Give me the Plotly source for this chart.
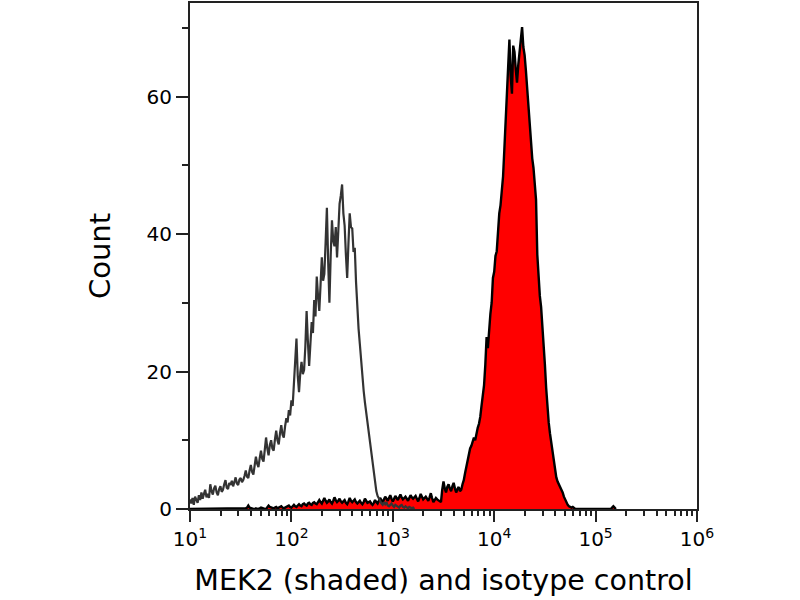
import plotly.graph_objects as go

# Histogram channels: log10 of fluorescence, start and step of the channel grid
log_start = 1.0
log_step = 0.0125

# Isotype control counts (outline only), channels from 10^1
iso_counts = [
    1.4, 0.8, 1.6, 0.6, 1.8, 1.2, 0.9, 2.0, 1.3, 2.4,
    1.5, 2.2, 2.8, 1.7, 2.2, 1.6, 3.6, 2.6, 2.1, 3.0,
    3.4, 2.4, 2.0, 2.9, 3.3, 2.5, 2.8, 3.6, 4.2, 3.1,
    2.9, 3.8, 3.5, 4.1, 3.3, 3.9, 4.6, 3.7, 3.5, 4.3,
    4.5, 3.9, 4.2, 4.8, 5.6, 4.7, 4.5, 5.6, 6.4, 5.4,
    5.0, 6.3, 7.6, 6.6, 6.1, 7.4, 8.5, 7.3, 6.9, 8.6,
    10.4, 8.8, 7.8, 9.3, 10.0, 8.8, 8.5, 10.1, 11.4, 10.0,
    9.4, 11.0, 12.2, 10.8, 10.4, 12.0, 13.2, 12.6, 14.4, 13.6,
    15.8, 15.0, 17.8, 20.4, 24.8, 19.4, 17.0, 19.8, 21.4, 19.6,
    20.2, 23.6, 28.8, 24.4, 20.8, 24.0, 27.2, 25.6, 30.4, 28.0,
    33.8, 31.0, 28.8, 32.6, 36.6, 33.2, 34.2, 38.8, 43.8, 36.0,
    30.0, 36.8, 42.0, 39.0, 38.2, 41.0, 36.6, 40.4, 44.4, 45.6,
    47.2, 43.0, 41.2, 37.0, 33.6, 38.6, 43.0, 41.0, 40.8, 37.4,
    38.0, 33.0, 29.0, 26.2, 24.0, 21.4, 19.5, 17.2, 15.5, 14.0,
    12.9, 11.2, 9.9, 8.0, 6.6, 5.0, 3.8, 2.6, 1.9, 1.4,
    1.2, 0.8, 0.6, 1.0, 0.7, 1.0, 0.5, 0.4, 0.7, 0.8,
    0.5, 0.3, 0.6, 0.5, 0.3, 0.2, 0.5, 0.6, 0.3, 0.2,
    0.4, 0.3, 0.1, 0.3, 0.2, 0.1, 0.2, 0.0,
]

# MEK2 counts (shaded), channels from 10^1
mek2_counts = [
    0, 0, 0, 0, 0, 0, 0, 0, 0, 0,
    0, 0, 0, 0, 0, 0, 0, 0, 0, 0,
    0, 0, 0, 0, 0, 0, 0, 0, 0, 0,
    0, 0, 0, 0, 0, 0,
    0.1, 0, 0, 0, 0, 0, 0, 0, 0.1, 0.2,
    0.5, 0.2, 0.1, 0, 0, 0, 0.1, 0, 0, 0.1,
    0.2, 0.1, 0.1, 0, 0, 0.2, 0.5, 0.3, 0.2, 0.1,
    0.1, 0.2, 0.3, 0.1, 0.2, 0.3, 0.4, 0.2, 0.1, 0.2,
    0.3, 0.4, 0.5, 0.3, 0.2, 0.4, 0.6, 0.4, 0.3, 0.5,
    0.7, 0.5, 0.4, 0.7, 0.8, 0.6, 0.5, 0.8, 0.9, 0.7,
    0.6, 0.9, 1.0, 0.8, 0.7, 1.0, 1.3, 1.0, 0.8, 1.2,
    1.6, 1.2, 0.9, 1.1, 1.4, 1.0, 0.8, 1.2, 1.7, 1.3,
    1.0, 1.2, 1.5, 1.1, 0.9, 1.1, 1.3, 0.9, 0.7, 1.1,
    1.6, 1.2, 1.0, 1.2, 1.4, 1.0, 0.8, 1.0, 1.2, 0.9,
    0.7, 1.0, 1.5, 1.2, 0.9, 1.0, 1.1, 0.8, 0.6, 0.9,
    1.3, 1.0, 0.8, 1.2, 1.6, 1.3, 1.0, 1.4, 1.8, 1.5,
    1.2, 1.6, 2.0, 1.5, 1.1, 1.5, 1.9, 1.6, 1.3, 1.7,
    2.1, 1.7, 1.4, 1.6, 1.8, 1.5, 1.2, 1.6, 2.0, 1.7,
    1.5, 1.7, 1.9, 1.5, 1.1, 1.6, 2.2, 1.8, 1.4, 1.6,
    1.8, 1.5, 1.2, 1.7, 2.3, 1.6, 1.0, 1.3, 1.6, 1.4,
    1.3, 1.1, 1.0, 2.8,
    4.0, 3.0, 2.4, 3.2, 3.6, 3.0, 2.6, 3.3, 3.8, 3.0,
    2.4, 2.9, 3.2, 2.6, 2.8, 3.6, 4.2, 5.2, 6.1, 7.2,
    7.8, 8.8, 9.2, 9.8, 10.4, 10.0, 11.2, 11.8, 12.4, 13.4,
    15.0, 16.8, 18.0, 21.0, 25.0, 23.4, 26.5, 28.4, 30.0, 33.6,
    34.5, 36.8, 37.5, 40.6, 43.0, 44.2, 46.0, 48.4, 52.3, 56.4,
    61.0, 65.0, 68.3, 63.0, 60.4, 67.4, 66.5, 64.0, 62.0, 64.6,
    66.8, 68.0, 70.1, 67.2, 66.0, 63.8, 61.0, 58.8, 56.0, 53.2,
    51.0, 49.6, 47.5, 45.0, 37.0, 33.6, 31.0, 29.4, 27.0, 24.0,
    21.0, 17.6, 14.5, 12.6, 11.0, 9.8, 8.5, 6.8, 5.5, 4.6,
    4.0, 3.6, 3.4, 2.8, 2.4, 1.8, 1.3, 0.9, 0.6, 0.4,
    0.3, 0.2, 0.3, 0.1, 0,
    0, 0, 0, 0, 0, 0, 0, 0, 0, 0,
    0, 0, 0, 0, 0, 0, 0, 0, 0, 0,
    0, 0, 0, 0, 0, 0, 0, 0,
    0.2, 0.4, 0.2, 0,
]

x_tick_vals = [1e1, 1e2, 1e3, 1e4, 1e5, 1e6]
x_tick_text = ["10<sup>1</sup>", "10<sup>2</sup>", "10<sup>3</sup>",
               "10<sup>4</sup>", "10<sup>5</sup>", "10<sup>6</sup>"]
y_tick_vals = [0, 20, 40, 60]
x_title = "MEK2 (shaded) and isotype control"
y_title = "Count"

def channels(n):
    return [10 ** (log_start + i * log_step) for i in range(n)]

x_minor = [m * 10 ** d for d in range(1, 6) for m in range(2, 10)]

FONT = "DejaVu Sans"

fig = go.Figure()
fig.add_trace(go.Scatter(
    x=channels(len(mek2_counts)), y=mek2_counts, mode="lines",
    fill="tozeroy", fillcolor="#ff0000",
    line=dict(color="#000000", width=2.4), showlegend=False,
))
fig.add_trace(go.Scatter(
    x=channels(len(iso_counts)), y=iso_counts, mode="lines",
    line=dict(color="#333333", width=2.2), showlegend=False,
))

fig.update_layout(
    width=800, height=600,
    margin=dict(l=190, r=103, t=1, b=91),
    paper_bgcolor="white", plot_bgcolor="white",
    font=dict(family=FONT, color="#000000"),
    xaxis=dict(
        type="log", range=[1, 6],
        tickmode="array", tickvals=x_tick_vals, ticktext=x_tick_text,
        ticks="outside", ticklen=11, tickwidth=2, tickcolor="#222222",
        showline=True, linecolor="#222222", linewidth=2, mirror=True,
        showgrid=False, zeroline=False,
        tickfont=dict(size=20, family=FONT),
        minor=dict(tickmode="array", tickvals=x_minor, ticks="outside",
                   ticklen=5, tickwidth=2, tickcolor="#222222", showgrid=False),
        title=dict(text=x_title, font=dict(size=28.5, family=FONT), standoff=20),
    ),
    yaxis=dict(
        range=[0, 73.6],
        tickmode="array", tickvals=y_tick_vals,
        ticks="outside", ticklen=12, tickwidth=2, tickcolor="#222222",
        showline=True, linecolor="#222222", linewidth=2, mirror=True,
        showgrid=False, zeroline=False,
        tickfont=dict(size=20, family=FONT),
        minor=dict(dtick=10, ticks="outside", ticklen=6, tickwidth=2,
                   tickcolor="#222222", showgrid=False),
        title=dict(text=y_title, font=dict(size=29, family=FONT), standoff=27),
    ),
)

fig.write_html("out.html", config={"displayModeBar": False},
               post_script="document.body.style.margin='0px';")
